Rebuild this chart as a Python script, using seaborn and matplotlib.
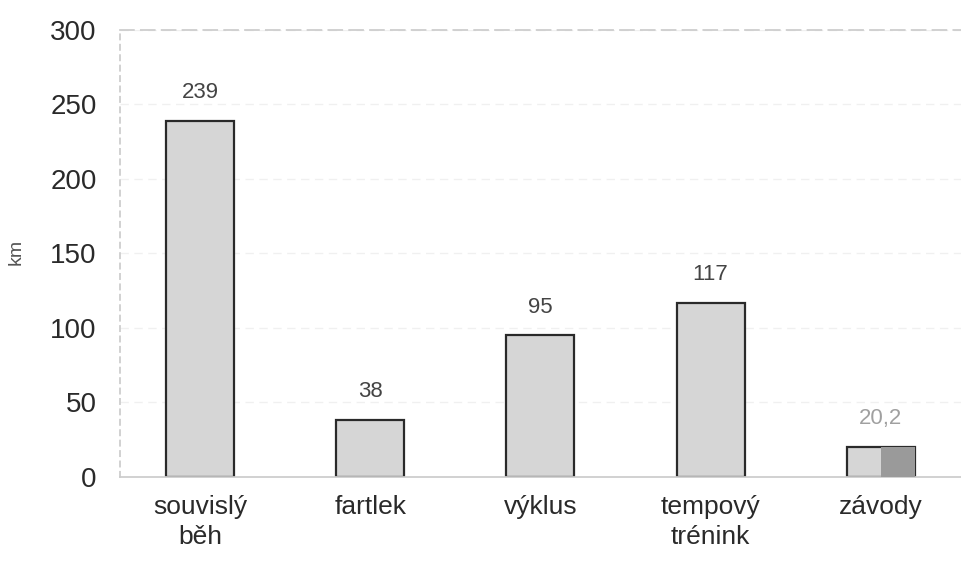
import matplotlib
matplotlib.use("Agg")
import matplotlib.pyplot as plt
import seaborn as sns
import pandas as pd

categories = ["souvislý\nběh", "fartlek", "výklus", "tempový\ntrénink", "závody"]
values = [239, 38, 95, 117, 20.2]
value_labels = ["239", "38", "95", "117", "20,2"]
yticks = [0, 50, 100, 150, 200, 250, 300]

sns.set_theme(style="white")
plt.rcParams['font.family'] = ['Liberation Sans', 'DejaVu Sans']

df = pd.DataFrame({"cat": categories, "km": values})

fig = plt.figure(figsize=(9.61, 5.74), dpi=100)
ax = fig.add_axes([0.125, 0.169, 0.88, 0.779])

sns.barplot(data=df, x="cat", y="km", color="#d6d6d6", width=0.4,
            edgecolor="#2a2a2a", linewidth=1.6, saturation=1, ax=ax)

# darker right half of the last bar
last = len(values) - 1
ax.bar(last + 0.1, values[last], width=0.2, color="#9a9a9a", edgecolor="none", zorder=3)

for i, (v, lab) in enumerate(zip(values, value_labels)):
    col = "#a0a0a0" if i == last else "#444444"
    ax.text(i, v + 12, lab, ha="center", va="bottom", fontsize=16, color=col)

ax.set_ylim(0, 300)
ax.set_xlim(-0.47, 4.5)
ax.set_yticks(yticks)
ax.set_yticklabels([str(t) for t in yticks], fontsize=20, color="#2a2a2a")
for t in ax.get_xticklabels():
    t.set_linespacing(1.3)
ax.tick_params(axis="x", labelsize=19, colors="#2a2a2a", pad=7)
ax.tick_params(axis="y", pad=11)
ax.set_xlabel("")
ax.set_ylabel("")
fig.text(16 / 961, 1 - 252 / 574, "km", rotation=90, ha="center", va="center",
         fontsize=14, color="#555555")
ax.yaxis.grid(True, color="#f0f0f0", linestyle=(0, (6, 4)), linewidth=1)
ax.set_axisbelow(True)
ax.spines["top"].set_color("#cccccc")
ax.spines["top"].set_linestyle((0, (8, 4)))
ax.spines["left"].set_color("#cccccc")
ax.spines["left"].set_linestyle((0, (3, 3)))
ax.spines["bottom"].set_color("#cccccc")
ax.spines["right"].set_visible(False)

fig.savefig("out.png", dpi=100)
